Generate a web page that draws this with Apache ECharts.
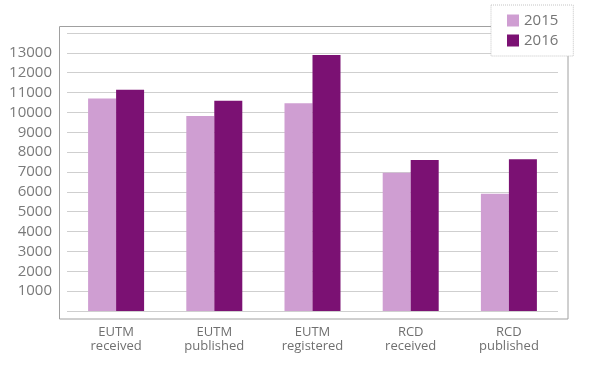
<!DOCTYPE html>
<html>
<head>
<meta charset="utf-8">
<script src="https://cdn.jsdelivr.net/npm/echarts@6/dist/echarts.min.js"></script>
<style>html,body{margin:0;padding:0;background:#fff}#c{width:607px;height:371px}</style>
</head>
<body>
<div id="c"></div>
<script>
const categories = ['EUTM\nreceived', 'EUTM\npublished', 'EUTM\nregistered', 'RCD\nreceived', 'RCD\npublished'];
const values2015 = [10700, 9820, 10460, 6960, 5900];
const values2016 = [11140, 10590, 12890, 7600, 7640];
const seriesNames = ['2015', '2016'];

const chart = echarts.init(document.getElementById('c'), null, {renderer: 'canvas'});
chart.setOption({
  animation: false,
  textStyle: {fontFamily: 'Open Sans'},
  grid: {left: 67, right: 49, top: 33, bottom: 60, containLabel: false},
  graphic: [{
    type: 'rect', z: 0, silent: true,
    shape: {x: 59.5, y: 26.5, width: 508.5, height: 292.5},
    style: {fill: 'none', stroke: '#a0a0a0', lineWidth: 1}
  }],
  legend: {
    orient: 'vertical', left: 491, top: 5,
    itemWidth: 12, itemHeight: 12, itemGap: 5,
    padding: [8, 15, 8, 16],
    borderColor: '#c4c4c4', borderWidth: 1, borderType: 'dotted',
    backgroundColor: '#fff', z: 10,
    icon: 'rect',
    textStyle: {fontSize: 15, color: '#757575', fontFamily: 'Open Sans'},
    data: seriesNames
  },
  xAxis: {
    type: 'category', data: categories,
    axisLine: {show: false}, axisTick: {show: false},
    axisLabel: {fontSize: 13, color: '#707070', lineHeight: 14, margin: 14, interval: 0}
  },
  yAxis: {
    type: 'value', min: 0, max: 14000, interval: 1000,
    axisLine: {show: false}, axisTick: {show: false},
    splitLine: {lineStyle: {color: '#cfcfcf', width: 1}},
    axisLabel: {
      fontSize: 15, color: '#7a7a7a', margin: 15,
      formatter: v => (v === 0 || v === 14000) ? '' : String(v)
    }
  },
  series: [
    {name: seriesNames[0], type: 'bar', data: values2015, barWidth: 28, barGap: '0%',
     itemStyle: {color: '#cf9ed2'}},
    {name: seriesNames[1], type: 'bar', data: values2016, barWidth: 28, barGap: '0%',
     itemStyle: {color: '#7b1173'}}
  ]
});
</script>
</body>
</html>
